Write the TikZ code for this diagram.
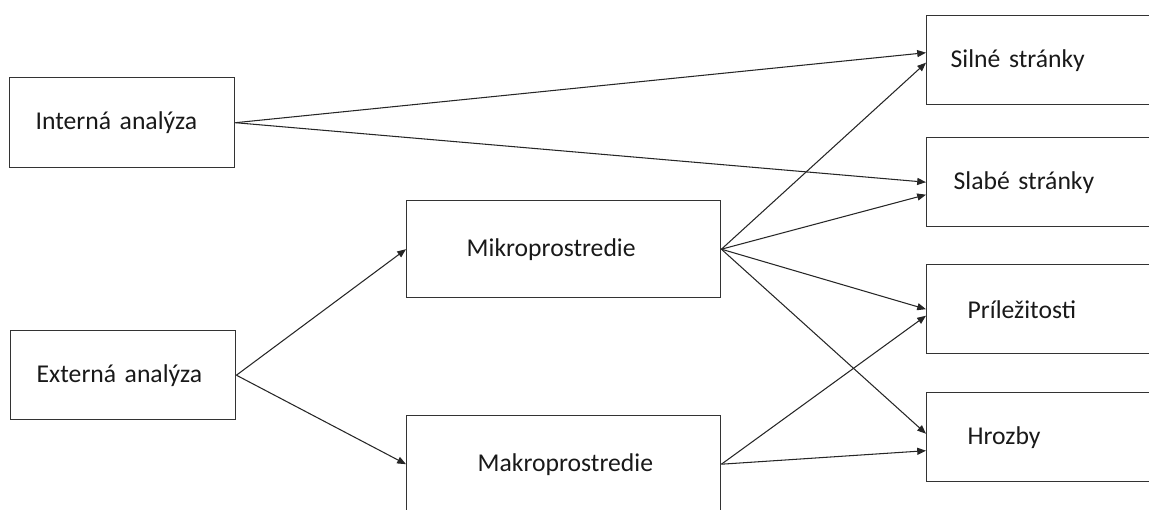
\documentclass[tikz,border=0pt]{standalone}
\usepackage{fontspec}
\setmainfont{Carlito}
\usetikzlibrary{arrows.meta}
\newlength{\pu}
\setlength{\pu}{0.02cm}
\tikzset{
	box/.style={draw=black!80, line width=0.8pt, rectangle, anchor=north west, inner xsep=0pt,
		align=left, text=black!90, font=\fontsize{14.6}{17}\selectfont},
	arr/.style={draw=black!85, line width=0.6pt, -{Triangle[length=5pt,width=4pt]}}
}
\begin{document}
\begin{tikzpicture}[x=0.02cm,y=-0.02cm]
		\useasboundingbox (0,0) rectangle (1149,510);
		\clip (0,0) rectangle (1149,510);
		% analyses
			\node[box, text width=225\pu, minimum height=90\pu] (inta) at (9,77) {\hspace*{26\pu}Interná analýza};
			\node[box, text width=225\pu, minimum height=89\pu] (exta) at (10,330) {\hspace*{26\pu}Externá analýza};
		% environment
			\node[box, text width=314\pu, minimum height=97\pu] (mikro) at (406,200) {\hspace*{60\pu}Mikroprostredie};
			\node[box, text width=314\pu, minimum height=97\pu] (makro) at (406,415) {\hspace*{71\pu}Makroprostredie};
		% swot (boxes run past the right edge)
			\node[box, text width=250\pu, minimum height=89\pu] (silne) at (926,15) {\hspace*{24\pu}Silné stránky};
			\node[box, text width=250\pu, minimum height=89\pu] (slabe) at (926,137) {\hspace*{27\pu}Slabé stránky};
			\node[box, text width=250\pu, minimum height=89\pu] (prilez) at (926,264) {\hspace*{41\pu}Príležitosti};
			\node[box, text width=250\pu, minimum height=89\pu] (hrozby) at (926,392) {\hspace*{41\pu}Hrozby};
		% arrows
			\foreach \a/\b in {exta/mikro,exta/makro}{
				\draw[arr] (\a.east) -- (\b.west);
				}
			\foreach \a/\b/\s in {inta/silne/7.5,inta/slabe/0,mikro/silne/-2.5,mikro/slabe/-12.5,
				mikro/prilez/0,mikro/hrozby/3.5,makro/prilez/-6.5,makro/hrozby/-13.5}{
				\draw[arr] (\a.east) -- ([yshift=\s\pu]\b.west);
				}
\end{tikzpicture}
\end{document}
